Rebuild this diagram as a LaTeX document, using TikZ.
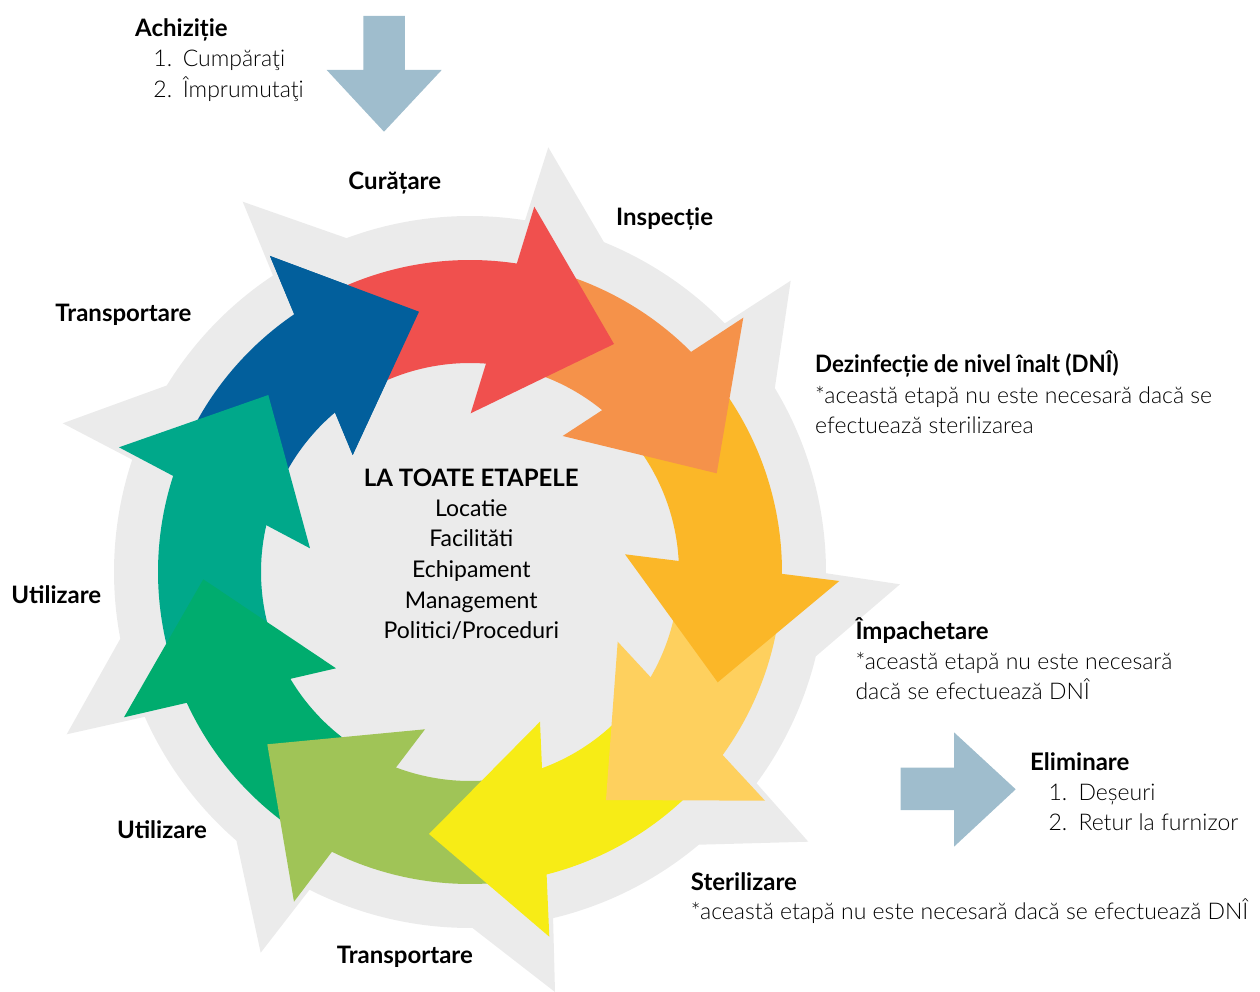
\documentclass[tikz,border=0pt]{standalone}
\usepackage{fontspec}
\setmainfont{Lato}
\newfontfamily\lightfont{Lato Light}
\newfontfamily\narrowbold{Lato}[FakeStretch=0.93]
\definecolor{bggray}{RGB}{235,235,235}
\definecolor{cBlue}{RGB}{2,95,156}
\definecolor{cRed}{RGB}{240,80,78}
\definecolor{cOrange}{RGB}{245,146,74}
\definecolor{cAmber}{RGB}{251,183,40}
\definecolor{cLOrange}{RGB}{254,208,94}
\definecolor{cYellow}{RGB}{247,236,22}
\definecolor{cLGreen}{RGB}{160,196,87}
\definecolor{cGreen}{RGB}{0,172,110}
\definecolor{cTeal}{RGB}{0,168,138}
\definecolor{cSteel}{RGB}{159,189,205}
% body: colour, tail angle, end angle ; head: outer barb, tip, inner barb
\newcommand\ringarrow[6]{%
  \fill[#1] (#2:312pt) arc[start angle=#2, end angle=#3, radius=312pt]
     -- (#3:209pt) arc[start angle=#3, end angle=#2, radius=209pt] -- cycle;
  \fill[#1] #4 -- #5 -- #6 -- cycle;}
\begin{document}
\begin{tikzpicture}[x=1pt,y=1pt,
  lbl/.style={font=\fontsize{24}{28}\selectfont\bfseries, inner sep=0pt, anchor=base west},
  note/.style={font=\fontsize{23}{28}\selectfont\lightfont, inner sep=0pt, anchor=base west},
  mid/.style={font=\fontsize{23}{28}\selectfont, inner sep=0pt, anchor=base},
  midb/.style={font=\fontsize{24}{28}\selectfont\bfseries, inner sep=0pt, anchor=base}]
\useasboundingbox (-470,-420) rectangle (790,572);
% background star
\fill[bggray] (123.6:356pt) -- (-227.3,370.3) -- (110.3:356pt)
  arc[start angle=110.3,end angle=81.1,radius=356pt] -- (78.3,424.7) -- (67.9:356pt)
  arc[start angle=67.9,end angle=44.3,radius=356pt] -- (320.7,291.3) -- (31.1:356pt)
  arc[start angle=31.1,end angle=-0.2,radius=356pt] -- (430,-12.3) -- (-13.7:356pt)
  arc[start angle=-13.7,end angle=-36.4,radius=356pt] -- (338.3,-269.7) -- (-50:356pt)
  arc[start angle=-50,end angle=-76.5,radius=356pt] -- (85,-420) -- (-89.6:356pt)
  arc[start angle=-89.6,end angle=-116.8,radius=356pt] -- (-209.3,-380.7) -- (-131:356pt)
  arc[start angle=-131,end angle=-156,radius=356pt] -- (-403.3,-162.3) -- (-169.2:356pt)
  arc[start angle=-169.2,end angle=-198.4,radius=356pt] -- (-407.3,148.7) -- (-211.6:356pt)
  arc[start angle=-211.6,end angle=-236.4,radius=356pt] -- cycle;
% ring of arrows
\ringarrow{cBlue}{152.7}{121.3}{(-200,316)}{(-51,260.3)}{(-117.3,117)}
\ringarrow{cTeal}{195.6}{159.1}{(-351,124.7)}{(-201.7,177)}{(-160,23.7)}
\ringarrow{cGreen}{234.4}{201.6}{(-346,-145.3)}{(-266.7,-7.3)}{(-134,-96.3)}
\ringarrow{cLGreen}{-84.9}{-119.4}{(-176,-329.7)}{(-202.7,-172.3)}{(-45,-157.3)}
\ringarrow{cYellow}{-45.2}{-79}{(79.3,-364.7)}{(-41,-262)}{(70,-149.7)}
\ringarrow{cLOrange}{-10}{-39}{(295,-228.7)}{(136,-228)}{(147.7,-69.7)}
\ringarrow{cAmber}{35.8}{-3.2}{(369.3,-9)}{(247.7,-110.3)}{(155,17.7)}
\ringarrow{cOrange}{71.7}{41.8}{(273.3,254.3)}{(246.7,98.7)}{(92.7,136)}
\ringarrow{cRed}{115.1}{78.4}{(64.3,365.3)}{(144,228)}{(0.7,158.7)}
\fill[cBlue] (-200,316) -- (-51,260.3) -- (-117.3,117) -- cycle;
% side arrows
\fill[cSteel] (-106.7,556) -- (-65,556) -- (-65,502) -- (-28.3,502) -- (-86,440.3)
  -- (-143.3,502) -- (-106.7,502) -- cycle;
\fill[cSteel] (430.7,-195.7) -- (484,-195.7) -- (484,-160.3) -- (545.7,-217.3)
  -- (484,-274.7) -- (484,-238) -- (430.7,-238) -- cycle;
% texts
\node[lbl] (acq) at (-335,535.3) {Achiziție};
\node[note] (acq1n) at (-316.7,505.3) {1.};
\node[note] (acq1) at (-287.3,505.3) {Cumpăraţi};
\node[note] (acq2n) at (-316.7,474.7) {2.};
\node[note] (acq2) at (-287.3,474.7) {Împrumutaţi};
\node[lbl] (cur) at (-121.7,382) {Curățare};
\node[lbl] (ins) at (146,346) {Inspecție};
\node[lbl, font=\fontsize{24}{28}\selectfont\narrowbold\bfseries] (dni) at (345,199.3) {Dezinfecție de nivel înalt (DNÎ)};
\node[note] (dni1) at (345,168.7) {*această etapă nu este necesară dacă se};
\node[note] (dni2) at (345,138.7) {efectuează sterilizarea};
\node[lbl] (imp) at (385.3,-67.3) {Împachetare};
\node[note] (imp1) at (385.3,-98) {*această etapă nu este necesară};
\node[note] (imp2) at (385.3,-128) {dacă se efectuează DNÎ};
\node[lbl] (eli) at (560,-198.7) {Eliminare};
\node[note] (eli1n) at (578.3,-228.7) {1.};
\node[note] (eli1) at (608.3,-228.7) {Deșeuri};
\node[note] (eli2n) at (578.3,-258.7) {2.};
\node[note] (eli2) at (608.3,-258.7) {Retur la furnizor};
\node[lbl] (ste) at (220.7,-318) {Sterilizare};
\node[note] (ste1) at (220.7,-347.3) {*această etapă nu este necesară dacă se efectuează DNÎ};
\node[lbl] (tr1) at (-414.7,250.3) {Transportare};
\node[lbl] (ut1) at (-458.7,-31.3) {Utilizare};
\node[lbl] (ut2) at (-353,-266) {Utilizare};
\node[lbl] (tr2) at (-133.3,-391.3) {Transportare};
\node[midb] (all) at (1.3,85.3) {LA TOATE ETAPELE};
\node[mid] (m1) at (1.3,55.3) {Locatie};
\node[mid] (m2) at (1.3,25.3) {Facilităti};
\node[mid] (m3) at (1.3,-5.3) {Echipament};
\node[mid] (m4) at (1.3,-36.3) {Management};
\node[mid] (m5) at (1.3,-66.3) {Politici/Proceduri};
\end{tikzpicture}
\end{document}
